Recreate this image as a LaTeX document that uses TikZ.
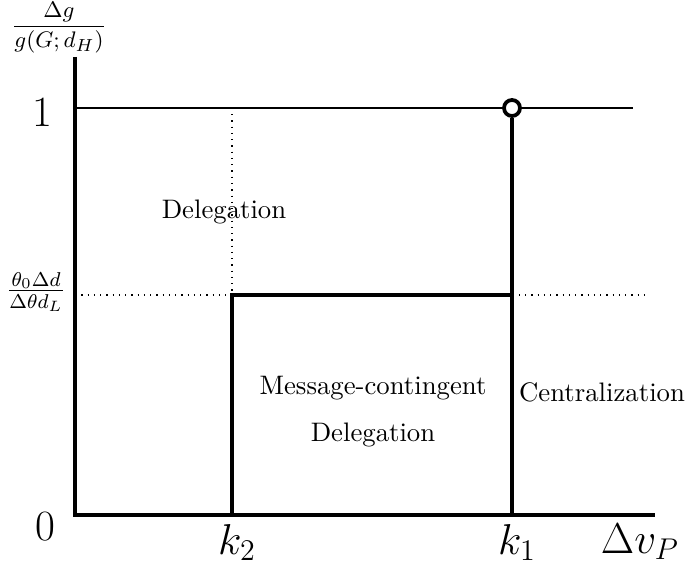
\documentclass[tikz,border=0pt]{standalone}
\usepackage{amsmath,amssymb}
\usetikzlibrary{positioning}
\tikzstyle{axis}    = [line width=1.7pt]
\tikzstyle{bound}   = [line width=1.5pt]
\tikzstyle{level}   = [line width=0.6pt]
\tikzstyle{guide}   = [dotted, line width=0.5pt]
\tikzstyle{region}  = [font=\fontsize{10.7}{12.8}\selectfont, align=center, inner sep=0pt]
\tikzstyle{ticklab} = [font=\LARGE, inner sep=0pt, anchor=base]
\tikzstyle{opendot} = [circle, draw, fill=white, line width=1.5pt,
                       minimum size=6.4pt, inner sep=0pt]
\begin{document}
\begin{tikzpicture}[x=0.4pt, y=-0.4pt]
\useasboundingbox (0,0) rectangle (685,565);
% Corners of the regions
\coordinate (O)    at (75,515);
\coordinate (ytop) at (75,57);
\coordinate (xend) at (655,515);
\coordinate (oneL) at (75,108);
\coordinate (oneR) at (633,108);
\coordinate (midL) at (75,295);
\coordinate (midR) at (645,295);
\coordinate (kTwoTop) at (232,108);
\coordinate (kTwoMid) at (232,295);
\coordinate (kTwoBot) at (232,515);
\coordinate (kOneMid) at (512,295);
\coordinate (kOneBot) at (512,515);
\node[opendot] (hole) at (512,108) {};
% Guides
\draw[level] (oneL) -- (hole);
\draw[level] (hole) -- (oneR);
\draw[guide] (midL) -- (midR);
\draw[guide] (kTwoTop) -- (kTwoMid);
% Boundaries
\draw[bound] (kTwoBot) -- (kTwoMid) -- (kOneMid);
\draw[bound] (kOneBot) -- (hole);
% Axes
\draw[axis] (ytop) -- (O) -- (xend);
% Axis labels
\node[font=\fontsize{9.3}{11}\selectfont] (ylab) at (59,28) {$\dfrac{\Delta g}{g(G;d_H)}$};
\node (cut) at (36,292) {\large $\frac{\theta_0\Delta d}{\Delta\theta d_L}$};
\node[ticklab] (one)  at (42,127) {$1$};
\node[ticklab] (zero) at (45,540) {$0$};
\node[ticklab] (kTwo) at (237,554) {$k_2$};
\node[ticklab] (kOne) at (517,554) {$k_1$};
\node[ticklab] (xlab) at (640,553) {$\Delta v_P$};
% Regions
\node[region] (deleg) at (224,212) {Delegation};
\node[region] (mcd) at (373,412) {Message-contingent\\[6pt]Delegation};
\node[region] (central) at (602,392) {Centralization};
\end{tikzpicture}
\end{document}
